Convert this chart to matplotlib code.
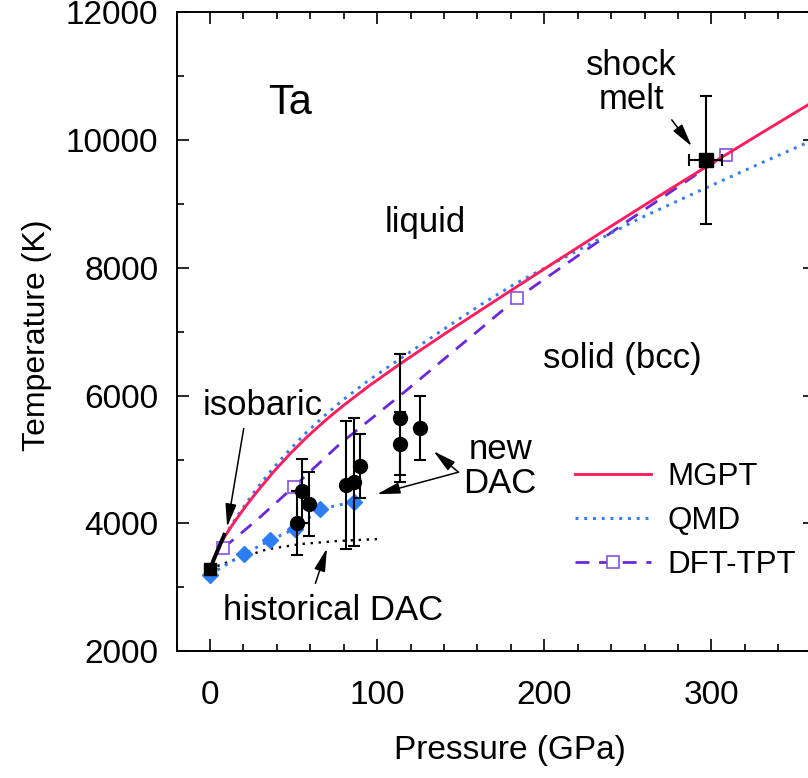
import numpy as np
import matplotlib
matplotlib.use("Agg")
import matplotlib.pyplot as plt

plt.rcParams['font.family'] = ['Liberation Sans', 'DejaVu Sans']

# ---- data ----
mgpt_p = [0, 3, 6, 9, 13, 17, 22, 28, 38, 48, 58, 70, 80, 95, 114, 140, 162, 182, 210, 237, 257, 270, 296,
          330, 362]
mgpt_t = [3290, 3495, 3660, 3800, 3960, 4110, 4290, 4490, 4806, 5091, 5351, 5633, 5848, 6148, 6500, 6958, 7336,
          7676, 8149, 8600, 8930, 9143, 9564, 10108, 10614]

qmd_p = [0, 3, 6, 9, 13, 17, 22, 28, 38, 48, 58, 70, 80, 95, 114, 140, 162, 182, 210, 231, 257, 296, 330, 362]
qmd_t = [3290, 3500, 3670, 3815, 3980, 4140, 4325, 4545, 4870, 5160, 5430, 5720, 5940, 6240, 6580, 7040, 7420,
         7740, 8130, 8420, 8770, 9240, 9640, 10010]

tpt_p = [7.7, 28, 50.1, 78, 114, 162, 183.6, 249, 308.5]
tpt_t = [3609, 4052, 4572, 5250, 6005, 7047, 7520, 8713, 9770]
tpt_marks = [0, 2, 6, 8]

qmd2_p = [0, 20.2, 36.2, 51.1, 65.6, 86]
qmd2_t = [3200, 3520, 3740, 3920, 4220, 4340]

hist_p = [0, 14, 34, 54, 76, 100]
hist_t = [3290, 3427, 3594, 3677, 3725, 3755]

iso_p = [0, 9]
iso_t = [3290, 3850]

dac_p = [52, 55, 59, 81.6, 86, 90, 113.9, 113.9, 125.8]
dac_t = [4010, 4505, 4300, 4600, 4650, 4900, 5650, 5250, 5500]
dac_err = [500, 500, 500, 1000, 1000, 500, 1000, 500, 500]

shock_p, shock_t = 296.6, 9690
shock_perr, shock_terr = 10, 1000

ambient_p, ambient_t = 0, 3290

# ---- colours ----
c_mgpt = '#ff1f5e'
c_qmd = '#2e7cf6'
c_tpt = '#6a28d8'
c_tpt_mk = '#8a50e2'

fig = plt.figure(figsize=(8.08, 7.78), dpi=100)
ax = fig.add_axes([176.5 / 808, 126.7 / 778, 638.5 / 808, 639.3 / 778])

ax.plot(hist_p, hist_t, color='black', lw=1.7, linestyle=(0, (1, 2.4)))
ax.plot(qmd2_p, qmd2_t, color=c_qmd, lw=2.1, linestyle=(0, (1, 2)), marker='D', ms=8,
        mfc=c_qmd, mec=c_qmd)
ax.plot(tpt_p, tpt_t, color=c_tpt, lw=2, linestyle=(0, (5, 3.5)), marker='s', ms=8.5,
        markevery=tpt_marks, mfc='white', mec=c_tpt_mk, mew=1.2, label='DFT-TPT', zorder=3)
ax.plot(qmd_p, qmd_t, color=c_qmd, lw=2.1, linestyle=(0, (1, 2)), label='QMD', zorder=4)
ax.plot(mgpt_p, mgpt_t, color=c_mgpt, lw=2.1, label='MGPT', zorder=5)
ax.plot(iso_p, iso_t, color='black', lw=2.8, solid_capstyle='butt', zorder=6)

ax.errorbar(dac_p, dac_t, yerr=dac_err, fmt='o', color='black', ms=10, elinewidth=1.5,
            capsize=4.5, capthick=1.5, zorder=7)
ax.errorbar([shock_p], [shock_t], xerr=[shock_perr], yerr=[shock_terr], fmt='s', color='black',
            ms=9.5, elinewidth=1.5, capsize=4.5, capthick=1.5, zorder=7)
ax.plot([ambient_p], [ambient_t], 's', color='black', ms=8.5, zorder=8)

ax.set_xlim(-20, 362)
ax.set_ylim(2000, 12000)
ax.set_xticks([0, 100, 200, 300])
ax.set_xticks(np.arange(-20, 362, 20), minor=True)
ax.set_yticks(np.arange(2000, 12001, 2000))
ax.set_yticks(np.arange(2000, 12001, 1000), minor=True)
ax.tick_params(which='both', direction='in', top=True, right=True, width=1.2, labelsize=24)
ax.tick_params(which='major', length=8.5)
ax.tick_params(which='minor', length=5)
ax.tick_params(axis='x', pad=21)
ax.tick_params(axis='y', pad=13)
for s in ax.spines.values():
    s.set_linewidth(1.4)

ax.set_xlabel('Pressure (GPa)', fontsize=24)
ax.set_ylabel('Temperature (K)', fontsize=23)
ax.xaxis.set_label_coords(0.522, -0.131)
ax.yaxis.set_label_coords(-0.195, 0.495)

# ---- annotations ----
ax.text(48.1, 10578, 'Ta', fontsize=30, ha='center', va='center')
ax.text(128.8, 8708, 'liquid', fontsize=25, ha='center', va='center')
ax.text(246.6, 6583, 'solid (bcc)', fontsize=25, ha='center', va='center')
ax.text(31.4, 5852, 'isobaric', fontsize=25, ha='center', va='center')
ax.text(73.9, 2645, 'historical DAC', fontsize=25, ha='center', va='center')
ax.text(173.6, 4895, 'new\nDAC', fontsize=25, ha='center', va='center', linespacing=1.05)
ax.text(252, 10900, 'shock\nmelt', fontsize=25, ha='center', va='center', linespacing=1.05)

arrow = dict(arrowstyle='-|>,head_length=1.4,head_width=0.34', color='black', lw=1.1,
             shrinkA=0, shrinkB=0)
ax.annotate('', xy=(10.3, 3947), xytext=(20.2, 5484), arrowprops=arrow)
ax.annotate('', xy=(70, 3609), xytext=(63.1, 3062), arrowprops=arrow)
ax.annotate('', xy=(100, 4458), xytext=(148.7, 4802), arrowprops=arrow)
ax.annotate('', xy=(133.8, 5130), xytext=(148.7, 4802), arrowprops=arrow)
ax.annotate('', xy=(288.2, 9900), xytext=(276.3, 10313), arrowprops=arrow)

handles, labels = ax.get_legend_handles_labels()
order = [labels.index(n) for n in ['MGPT', 'QMD', 'DFT-TPT']]
ax.legend([handles[i] for i in order], [labels[i] for i in order], loc='center left',
          bbox_to_anchor=(0.624, 0.204), frameon=False, fontsize=22.5, borderpad=0,
          borderaxespad=0, handlelength=2.45, handletextpad=0.5, labelspacing=0.45)

fig.savefig('out.png', dpi=100)
